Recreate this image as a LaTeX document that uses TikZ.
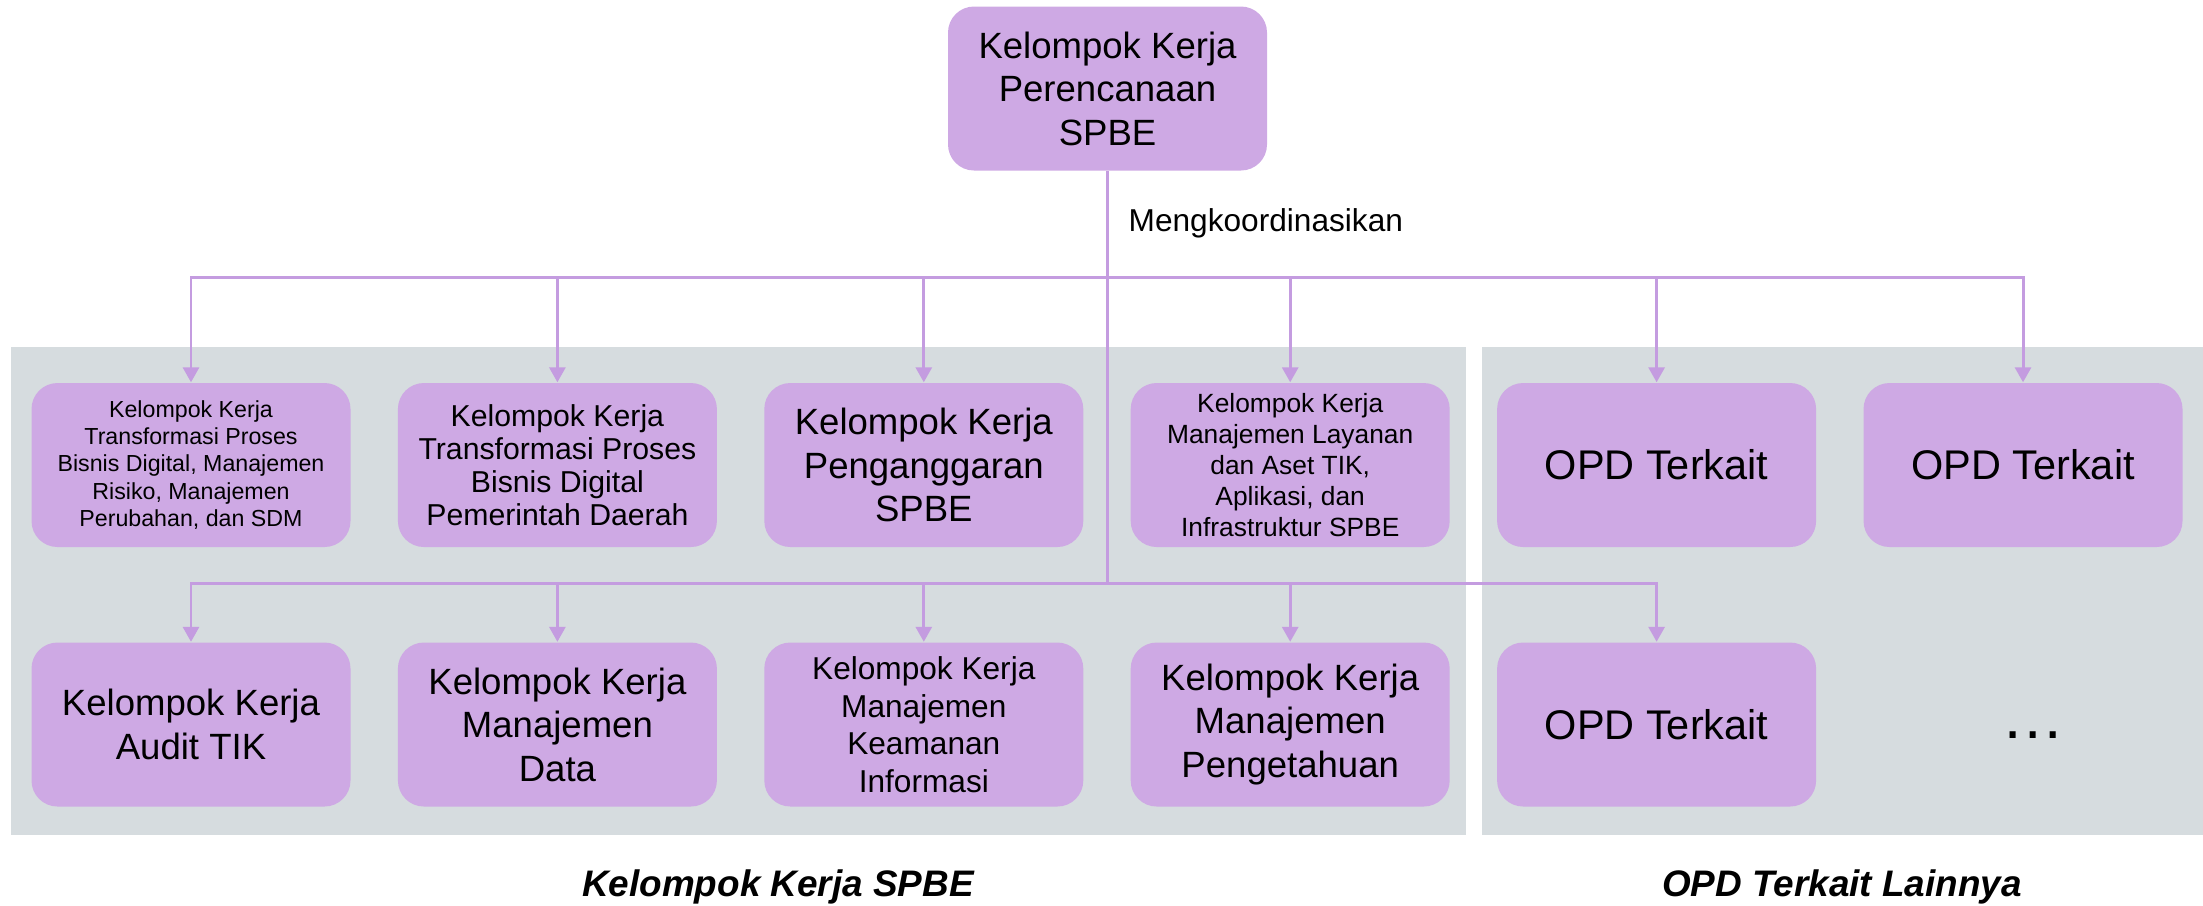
\documentclass[tikz,border=0pt]{standalone}
\usepackage{fontspec}
\setmainfont{Liberation Sans}
\usetikzlibrary{arrows.meta}
\definecolor{ungu}{RGB}{206,169,228}
\definecolor{garis}{RGB}{196,156,224}
\definecolor{latar}{RGB}{214,220,223}

\begin{document}
\begin{tikzpicture}[
        every node/.style={font=\fontsize{10.4}{12.4}\selectfont},
        wg/.style={
            rectangle,
            fill=ungu,
            rounded corners=2.6mm,
            minimum width=3.19cm,
            minimum height=1.64cm,
            inner sep=0pt,
            align=center
        },
        opd/.style={
            wg,
            font=\fontsize{11.8}{14}\selectfont
        },
        link/.style={
            draw=garis,
            line width=0.85pt
        },
        arrow/.style={
            link,
            -{Triangle[width=1.6mm,length=1.5mm]}
        },
        panel/.style={
            fill=latar
        },
        note/.style={
            font=\fontsize{9}{11}\selectfont,
            inner sep=0pt
        },
        caption/.style={
            font=\fontsize{10.5}{12.5}\selectfont\bfseries\itshape
        }
    ]
    \useasboundingbox (0,0) rectangle (22.03,-9.05);

    % Background panels
    \fill[panel] (0.11,-3.47) rectangle (14.66,-8.35);
    \fill[panel] (14.82,-3.47) rectangle (22.03,-8.35);

    % Top group
    \node[wg] (plan) at (11.075,-0.885) {Kelompok Kerja\\Perencanaan\\SPBE};

    % First row
    \node[wg, font=\fontsize{6.6}{7.7}\selectfont] (tpbd) at (1.91,-4.65) {Kelompok Kerja\\Transformasi Proses\\Bisnis Digital, Manajemen\\Risiko, Manajemen\\Perubahan, dan SDM};
    \node[wg, font=\fontsize{8.6}{9.4}\selectfont] (tppd) at (5.574,-4.65) {Kelompok Kerja\\Transformasi Proses\\Bisnis Digital\\Pemerintah Daerah};
    \node[wg] (angg) at (9.238,-4.65) {Kelompok Kerja\\Penganggaran\\SPBE};
    \node[wg, font=\fontsize{7.5}{8.8}\selectfont] (layn) at (12.902,-4.65) {Kelompok Kerja\\Manajemen Layanan\\dan Aset TIK,\\Aplikasi, dan\\Infrastruktur SPBE};
    \node[opd] (opdA) at (16.566,-4.65) {OPD Terkait};
    \node[opd] (opdB) at (20.23,-4.65) {OPD Terkait};

    % Second row
    \node[wg] (audit) at (1.91,-7.245) {Kelompok Kerja\\Audit TIK};
    \node[wg] (data) at (5.574,-7.245) {Kelompok Kerja\\Manajemen\\Data};
    \node[wg, font=\fontsize{9}{10.7}\selectfont] (aman) at (9.238,-7.245) {Kelompok Kerja\\Manajemen\\Keamanan\\Informasi};
    \node[wg] (tahu) at (12.902,-7.245) {Kelompok Kerja\\Manajemen\\Pengetahuan};
    \node[opd] (opdC) at (16.566,-7.245) {OPD Terkait};
    \node[font=\fontsize{18}{20}\selectfont] (more) at (20.33,-7.35) {…};

    % Connectors
    \coordinate (hub) at (11.075,-2.77);
    \coordinate (hubB) at (11.075,-5.83);
    \draw[link] (plan.south) -- (hub) -- (hubB);
    \node[note, anchor=west] (koord) at (11.28,-2.23) {Mengkoordinasikan};
    \foreach \n in {tpbd,tppd,angg,layn,opdA,opdB}
        \draw[arrow] (hub) -| (\n.north);
    \foreach \n in {audit,data,aman,tahu,opdC}
        \draw[arrow] (hubB) -| (\n.north);

    % Captions
    \node[caption] (capA) at (7.78,-8.87) {Kelompok Kerja SPBE};
    \node[caption] (capB) at (18.42,-8.87) {OPD Terkait Lainnya};
\end{tikzpicture}
\end{document}
